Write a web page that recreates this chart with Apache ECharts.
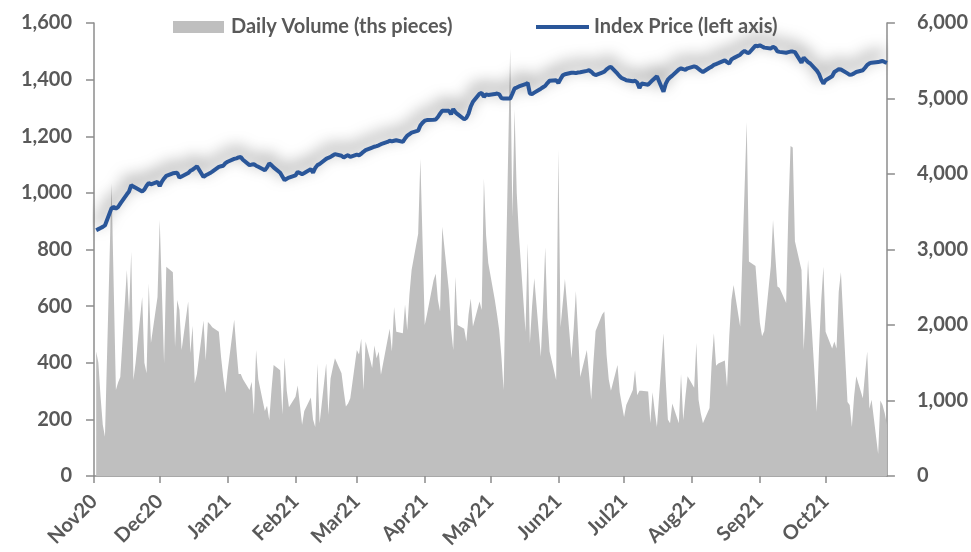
<!DOCTYPE html>
<html><head><meta charset="utf-8">
<script src="https://cdn.jsdelivr.net/npm/echarts@6/dist/echarts.min.js"></script>
<style>html,body{margin:0;padding:0;background:#fff}#c{width:971px;height:552px}</style>
</head><body><div id="c"></div>
<script>
// ---- categories: trading days (weekdays) of the period ----
const firstDay = '2020-11-02';
const lastDay = '2021-10-29';
const axisStart = '2020-11-01';
const axisEnd = '2021-10-29';
const monthTicks = ['2020-11-01','2020-12-01','2021-01-01','2021-02-01','2021-03-01','2021-04-01','2021-05-01','2021-06-01','2021-07-01','2021-08-01','2021-09-01','2021-10-01'];
const monthLabels = ['Nov20','Dec20','Jan21','Feb21','Mar21','Apr21','May21','Jun21','Jul21','Aug21','Sep21','Oct21'];
const leftTicks = [0,200,400,600,800,1000,1200,1400,1600];
const rightTicks = [0,1000,2000,3000,4000,5000,6000];

// ---- Daily volume (ths pieces), one value per trading day, by month ----
const volNov20 = [1650,1500,1050,680,520,3880,2510,1140,1240,1310,2730,2160,2970,1270,1500,2370,1500,1360,2550,1760,2370];
const volDec20 = [3390,2440,1490,2770,2700,1710,2330,2200,1670,2310,1630,1990,1230,1350,2060,1530,2040,2010,1970,1910,1580,1310,1100];
const volJan21 = [1390,2070,1690,1350,1350,1280,1140,1250,810,1670,1280,860,930,740,1130,1470,1400,810,1570,1130,910];
const volFeb21 = [1050,1200,940,680,860,1040,750,650,1490,700,1490,810,1290,1430,1560,1360,1130,920,960,1030];
const volMar21 = [1670,1610,1820,1140,1780,1430,1730,1560,1650,1340,1800,1950,1650,2240,1910,1890,2270,1930,2400,2730,3210,4200,3110];
const volApr21 = [2000,2140,2590,2680,2330,2180,3300,2460,1950,1670,2640,2000,1950,1780,2140,2350,1980,2310,2200,3940,3190,2820];
const volMay21 = [2330,2140,1930,1580,1140,5660,3430,4850,3750,3190,1910,3080,1760,2250,2620,1580,2250,3030,2100,1650,1270];
const volJun21 = [4320,1970,2290,2610,1560,1950,2450,1880,1310,1670,1350,1010,1500,1920,2140,2180,1610,1280,1130,1470,1110,940];
const volJul21 = [780,940,1140,1400,1070,1130,1130,1120,700,1110,860,650,1890,1270,750,700,960,700,1350,740,1050,1320];
const volAug21 = [1170,1760,1010,830,700,900,1500,1890,1460,1490,1530,1180,1840,2330,2530,1980,2890,3790,4690,2840,2780,2400];
const volSep21 = [2030,1850,1920,2780,3390,2930,2510,2490,2290,3490,4370,4350,3110,2730,1670,2250,2860,2280,850,1680,2320,2770];
const volOct21 = [1910,1690,1780,1690,2440,2700,980,940,650,1050,1320,1030,1350,1650,890,1010,290,1000,940,830,680];

// ---- Index price (left axis), one value per trading day, by month ----
const priceNov20 = [868,872,876,880,885,946,950,945,950,962,995,1005,1027,1022,1018,1005,1012,1025,1035,1030,1039];
const priceDec20 = [1024,1040,1051,1060,1069,1070,1071,1054,1058,1070,1078,1082,1088,1094,1056,1062,1066,1070,1075,1092,1094,1096,1105];
const priceJan21 = [1110,1120,1122,1125,1127,1117,1098,1100,1101,1096,1092,1080,1090,1104,1098,1090,1071,1058,1045,1050,1054];
const priceFeb21 = [1062,1074,1070,1066,1070,1084,1071,1088,1098,1102,1120,1124,1127,1132,1137,1131,1125,1130,1133,1127];
const priceMar21 = [1135,1133,1138,1145,1151,1160,1163,1165,1168,1172,1180,1184,1182,1184,1186,1180,1192,1202,1207,1213,1220,1238,1248];
const priceApr21 = [1255,1257,1258,1259,1268,1280,1290,1290,1278,1296,1285,1278,1260,1265,1280,1305,1322,1350,1353,1339,1348,1346];
const priceMay21 = [1349,1351,1348,1335,1333,1333,1350,1369,1372,1376,1384,1388,1351,1349,1354,1368,1373,1378,1388,1396,1398];
const priceJun21 = [1388,1402,1415,1419,1424,1424,1423,1425,1426,1431,1433,1428,1420,1416,1425,1428,1436,1442,1445,1421,1412,1405];
const priceJul21 = [1402,1398,1394,1396,1390,1370,1386,1382,1390,1398,1405,1412,1357,1385,1400,1408,1414,1436,1440,1437,1435,1440];
const priceAug21 = [1447,1444,1438,1432,1427,1442,1446,1452,1455,1458,1468,1462,1457,1471,1476,1488,1496,1501,1496,1494,1520,1518];
const priceSep21 = [1521,1517,1513,1510,1516,1512,1500,1498,1495,1497,1499,1499,1497,1460,1478,1470,1462,1457,1432,1420,1400,1386];
const priceOct21 = [1398,1412,1427,1432,1437,1436,1422,1417,1418,1422,1427,1433,1442,1452,1457,1460,1462,1464,1466,1462,1459];

// ---- build ----
function ts(s){ const p = s.split('-').map(Number); return new Date(p[0], p[1]-1, p[2]).getTime(); }
function weekdays(a, b){
  const out = []; const d = new Date(ts(a)); const end = ts(b);
  while (d.getTime() <= end){ const w = d.getDay(); if (w !== 0 && w !== 6) out.push(d.getTime()); d.setDate(d.getDate()+1); }
  return out;
}
const days = weekdays(firstDay, lastDay);
const volume = [].concat(volNov20,volDec20,volJan21,volFeb21,volMar21,volApr21,volMay21,volJun21,volJul21,volAug21,volSep21,volOct21);
const price = [].concat(priceNov20,priceDec20,priceJan21,priceFeb21,priceMar21,priceApr21,priceMay21,priceJun21,priceJul21,priceAug21,priceSep21,priceOct21);
const volData = days.map((t,i)=>[t, volume[i]]).filter(p=>p[1]!=null);
const priceData = days.map((t,i)=>[t, price[i]]).filter(p=>p[1]!=null);
const tickTs = monthTicks.map(ts);

const grey = '#595959';
const axisGrey = '#8C8C8C';
const font = 'Lato';
const lab = {color: grey, fontWeight: 'bold', fontSize: 20, fontFamily: font};

const chart = echarts.init(document.getElementById('c'), null, {renderer: 'canvas'});
chart.setOption({
  animation: false,
  backgroundColor: '#ffffff',
  grid: {left: 94, right: 81, top: 23, bottom: 76, containLabel: false},
  legend: [
    {data: [{name: 'Daily Volume (ths pieces)', icon: 'rect'}], left: 173, top: 17, padding: 0, itemWidth: 51, itemHeight: 12, itemGap: 0,
     textStyle: {color: grey, fontWeight: 'bold', fontSize: 20, fontFamily: font, padding: [0,0,0,2]}},
    {data: [{name: 'Index Price (left axis)', icon: 'rect'}], left: 536, top: 17, padding: 0, itemWidth: 53, itemHeight: 4, itemGap: 0,
     textStyle: {color: grey, fontWeight: 'bold', fontSize: 20, fontFamily: font, padding: [0,0,0,0]}}
  ],
  xAxis: {
    type: 'value', min: ts(axisStart), max: ts(axisEnd), scale: true,
    axisLine: {onZero: false, lineStyle: {color: axisGrey, width: 1.5}},
    axisTick: {show: true, length: 7, customValues: tickTs, lineStyle: {color: axisGrey, width: 1.5}},
    axisLabel: Object.assign({}, lab, {customValues: tickTs, rotate: 45, margin: 22, hideOverlap: false, showMinLabel: true, showMaxLabel: true,
      formatter: function(v){ const i = tickTs.indexOf(v); return i >= 0 ? monthLabels[i] : ''; }}),
    splitLine: {show: false}
  },
  yAxis: [
    {type: 'value', position: 'left', min: leftTicks[0], max: leftTicks[leftTicks.length-1], interval: 200,
     axisLine: {show: true, lineStyle: {color: axisGrey, width: 1.5}},
     axisTick: {show: true, length: 8, lineStyle: {color: axisGrey, width: 1.5}},
     axisLabel: Object.assign({}, lab, {margin: 22, formatter: v => v.toLocaleString('en-US')}),
     splitLine: {show: false}},
    {type: 'value', position: 'right', min: rightTicks[0], max: rightTicks[rightTicks.length-1], interval: 1000,
     axisLine: {show: true, lineStyle: {color: axisGrey, width: 1.5}},
     axisTick: {show: true, length: 8, lineStyle: {color: axisGrey, width: 1.5}},
     axisLabel: Object.assign({}, lab, {margin: 30, formatter: v => v.toLocaleString('en-US')}),
     splitLine: {show: false}}
  ],
  series: [
    {name: 'Daily Volume (ths pieces)', type: 'line', yAxisIndex: 1, data: volData, symbol: 'none', showSymbol: false,
     lineStyle: {width: 0, color: '#BFBFBF'}, itemStyle: {color: '#BFBFBF'}, areaStyle: {color: '#BFBFBF', opacity: 1}, z: 1},
    {name: 'Index Price (left axis)', type: 'line', yAxisIndex: 0, data: priceData, symbol: 'none', showSymbol: false,
     lineStyle: {color: '#2A5699', width: 4, shadowColor: 'rgba(0,0,0,0.65)', shadowBlur: 16, shadowOffsetX: -2, shadowOffsetY: -7},
     itemStyle: {color: '#2A5699'}, z: 3}
  ]
});
</script></body></html>
